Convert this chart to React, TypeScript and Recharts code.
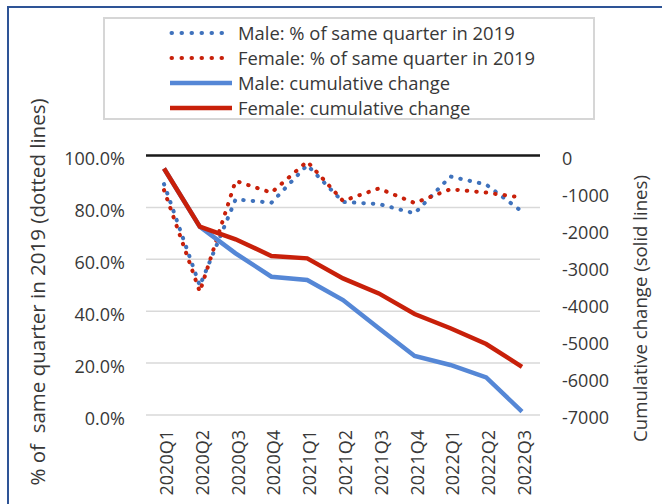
import React from "react";
import {
  ComposedChart,
  Line,
  XAxis,
  YAxis,
  CartesianGrid,
  ReferenceLine,
} from "recharts";

const categories = [
  "2020Q1", "2020Q2", "2020Q3", "2020Q4",
  "2021Q1", "2021Q2", "2021Q3", "2021Q4",
  "2022Q1", "2022Q2", "2022Q3",
];

// % of same quarter in 2019 (left axis, dotted lines)
const malePct = [89.0, 49.8, 83.1, 81.8, 96.3, 82.1, 81.3, 77.7, 91.9, 88.8, 78.4];
const femalePct = [86.7, 47.5, 90.2, 85.7, 97.7, 82.5, 87.3, 81.7, 87.0, 85.7, 83.8];

// Cumulative change (right axis, solid lines)
const maleCum = [-350, -1920, -2640, -3270, -3360, -3900, -4660, -5410, -5650, -5985, -6910];
const femaleCum = [-350, -1920, -2260, -2710, -2775, -3315, -3720, -4275, -4660, -5085, -5700];

const leftTicks = [0, 20, 40, 60, 80, 100];
const rightTicks = [-7000, -6000, -5000, -4000, -3000, -2000, -1000, 0];

const legendLabels = [
  "Male: % of same quarter in 2019",
  "Female: % of same quarter in 2019",
  "Male: cumulative change",
  "Female: cumulative change",
];

const BLUE_DOT = "#3F72BC";
const BLUE = "#5587D6";
const RED = "#C8200A";
const TEXT = "#383838";
const FONT = "'Open Sans', sans-serif";

const data = categories.map((c, i) => ({
  cat: c,
  malePct: malePct[i],
  femalePct: femalePct[i],
  maleCum: maleCum[i],
  femaleCum: femaleCum[i],
}));

const legendItems = [
  { label: legendLabels[0], color: BLUE_DOT, dotted: true },
  { label: legendLabels[1], color: RED, dotted: true },
  { label: legendLabels[2], color: BLUE, dotted: false },
  { label: legendLabels[3], color: RED, dotted: false },
];

const LeftTick = (props: any) => {
  const { x, y, payload } = props;
  return (
    <text x={x} y={y + 3.5} dy="0.36em" textAnchor="end" fill={TEXT} fontSize={18} fontFamily={FONT}>
      {`${Number(payload.value).toFixed(1)}%`}
    </text>
  );
};

const RightTick = (props: any) => {
  const { x, y, payload } = props;
  return (
    <text x={x} y={y + 3} dy="0.36em" textAnchor="start" fill={TEXT} fontSize={18} fontFamily={FONT}>
      {String(payload.value)}
    </text>
  );
};

const XTick = (props: any) => {
  const { x, y, payload } = props;
  return (
    <text
      x={x}
      y={y}
      dy="0.5em"
      textAnchor="end"
      transform={`rotate(-90, ${x}, ${y})`}
      fill={TEXT}
      fontSize={18}
      fontFamily={FONT}
    >
      {payload.value}
    </text>
  );
};

const LeftTitle = () => (
  <text
    x={38}
    y={292}
    dy="0.35em"
    textAnchor="middle"
    transform="rotate(-90, 38, 292)"
    fill={TEXT}
    fontSize={20.5}
    fontFamily={FONT}
    xmlSpace="preserve"
    style={{ whiteSpace: "pre" }}
  >
    {"% of  same quarter in 2019 (dotted lines)"}
  </text>
);

const RightTitle = () => (
  <text
    x={640}
    y={308.5}
    dy="0.35em"
    textAnchor="middle"
    transform="rotate(-90, 640, 308.5)"
    fill={TEXT}
    fontSize={18.6}
    fontFamily={FONT}
  >
    Cumulative change (solid lines)
  </text>
);

const LegendBox = () => (
  <div
    style={{
      position: "absolute",
      left: 103,
      top: 17,
      width: 488,
      height: 99,
      border: "2px solid #d6d6d6",
      background: "#fff",
    }}
  >
    <svg width={488} height={99} style={{ position: "absolute", left: 0, top: 0, overflow: "visible" }}>
      {legendItems.map((it, i) => {
        const cy = 14 + i * 25;
        return (
          <g key={it.label}>
            {it.dotted ? (
              <line
                x1={66.5}
                x2={117.5}
                y1={cy}
                y2={cy}
                stroke={it.color}
                strokeWidth={4}
                strokeLinecap="round"
                strokeDasharray="0.5 9.5"
              />
            ) : (
              <line x1={65} x2={127} y1={cy} y2={cy} stroke={it.color} strokeWidth={4.5} />
            )}
            <text x={133} y={cy} dy="0.36em" fill={TEXT} fontSize={18.4} fontFamily={FONT}>
              {it.label}
            </text>
          </g>
        );
      })}
    </svg>
  </div>
);

export default function App() {
  return (
    <div style={{ position: "absolute", left: 0, top: 0, width: 662, height: 504, background: "#fff", overflow: "hidden" }}>
      <div
        style={{
          position: "absolute",
          left: 6.5,
          top: 5.5,
          width: 660,
          height: 504,
          borderTop: "2px solid #2E5496",
          borderLeft: "2px solid #2E5496",
        }}
      />
      <ComposedChart
        width={662}
        height={504}
        data={data}
        margin={{ top: 155.5, right: 0, bottom: 0, left: 0 }}
        style={{ position: "absolute", left: 0, top: 0 }}
      >
        <CartesianGrid yAxisId="left" vertical={false} stroke="#d9d9d9" strokeWidth={1.5} />
        <XAxis
          dataKey="cat"
          height={89}
          padding={{ left: 18, right: 18 }}
          axisLine={false}
          tickLine={false}
          tickSize={0}
          tickMargin={15}
          interval={0}
          tick={<XTick />}
        />
        <YAxis
          yAxisId="left"
          orientation="left"
          width={146}
          domain={[0, 100]}
          ticks={leftTicks}
          axisLine={false}
          tickLine={false}
          tickSize={0}
          tickMargin={21}
          tick={<LeftTick />}
          label={{ content: () => <LeftTitle /> }}
        />
        <YAxis
          yAxisId="right"
          orientation="right"
          width={122}
          domain={[-7000, 0]}
          ticks={rightTicks}
          axisLine={false}
          tickLine={false}
          tickSize={0}
          tickMargin={22}
          tick={<RightTick />}
          label={{ content: () => <RightTitle /> }}
        />
        <ReferenceLine yAxisId="left" y={100} stroke="#1a1a1a" strokeWidth={2.5} />
        <Line
          yAxisId="left"
          type="linear"
          dataKey="malePct"
          stroke={BLUE_DOT}
          strokeWidth={4}
          strokeLinecap="round"
          strokeDasharray="0.5 9"
          dot={false}
          activeDot={false}
          isAnimationActive={false}
        />
        <Line
          yAxisId="left"
          type="linear"
          dataKey="femalePct"
          stroke={RED}
          strokeWidth={4}
          strokeLinecap="round"
          strokeDasharray="0.5 9"
          dot={false}
          activeDot={false}
          isAnimationActive={false}
        />
        <Line
          yAxisId="right"
          type="linear"
          dataKey="maleCum"
          stroke={BLUE}
          strokeWidth={4.5}
          dot={false}
          activeDot={false}
          isAnimationActive={false}
        />
        <Line
          yAxisId="right"
          type="linear"
          dataKey="femaleCum"
          stroke={RED}
          strokeWidth={4.5}
          dot={false}
          activeDot={false}
          isAnimationActive={false}
        />
      </ComposedChart>
      <LegendBox />
    </div>
  );
}
